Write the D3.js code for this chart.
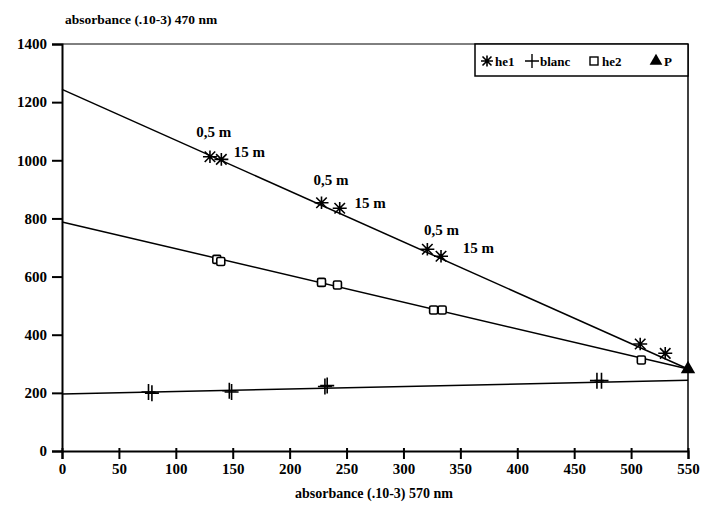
<!DOCTYPE html>
<html>
<head>
<meta charset="utf-8">
<script src="https://cdn.jsdelivr.net/npm/d3@7"></script>
<style>
  body { margin: 0; background: #fff; }
  text { font-family: "Liberation Serif", "DejaVu Serif", serif; font-weight: bold; fill: #000; }
</style>
</head>
<body>
<svg id="chart" width="701" height="513"></svg>
<script>
// data
const xTicks = [0, 50, 100, 150, 200, 250, 300, 350, 400, 450, 500, 550];
const yTicks = [0, 200, 400, 600, 800, 1000, 1200, 1400];

const he1 = [[130, 1012], [140, 1003], [228, 854], [244, 835], [321, 694], [333, 670], [508, 368], [530, 336]];
const blanc = [[76, 203], [79, 199], [147, 207], [149, 203], [231, 222], [233, 225], [470, 242], [474, 242]];
const he2 = [[136, 659], [139.5, 652], [228, 580], [242, 571], [326.5, 485], [334, 485], [509, 313]];
const P = [[550, 282]];

// fitted lines drawn across the plot
const lineHe1 = [[0, 1244], [550, 282]];
const lineHe2 = [[0, 788], [550, 282]];
const lineBlanc = [[0, 196], [550, 243]];

const notes = [
    { x: 118, y: 1080, text: "0,5 m" },
    { x: 151, y: 1011, text: "15 m" },
    { x: 221, y: 915, text: "0,5 m" },
    { x: 257, y: 836, text: "15 m" },
    { x: 318, y: 742, text: "0,5 m" },
    { x: 352, y: 680, text: "15 m" }
];

const legendItems = ["he1", "blanc", "he2", "P"];

const svg = d3.select("#chart");
const mLeft = 62, mRight = 688, mTop = 44, mBottom = 451;

const x = d3.scaleLinear().domain([0, 550]).range([mLeft, mRight]);
const y = d3.scaleLinear().domain([0, 1400]).range([mBottom, mTop]);

// frame: top and right border
svg.append("line").attr("x1", mLeft).attr("x2", mRight).attr("y1", mTop).attr("y2", mTop)
    .attr("stroke", "#000").attr("stroke-width", 1);
svg.append("line").attr("x1", mRight).attr("x2", mRight).attr("y1", mTop).attr("y2", mBottom)
    .attr("stroke", "#000").attr("stroke-width", 1.5);

// axes
const xAxis = svg.append("g").attr("transform", `translate(0,${mBottom})`)
    .call(d3.axisBottom(x).tickValues(xTicks).tickSize(8).tickPadding(4).tickFormat(d3.format("d")));
const yAxis = svg.append("g").attr("transform", `translate(${mLeft},0)`)
    .call(d3.axisLeft(y).tickValues(yTicks).tickSize(10).tickPadding(5).tickFormat(d3.format("d")));

[xAxis, yAxis].forEach(g => {
    g.select(".domain").attr("stroke-width", 2);
    g.selectAll(".tick line").attr("stroke-width", 2);
    g.selectAll(".tick text").style("font-size", "15px").style("font-family", "Liberation Serif").style("font-weight", "bold");
});
xAxis.selectAll(".tick line").attr("y1", -3);

// axis titles
svg.append("text").attr("x", 65).attr("y", 24).style("font-size", "13.5px")
    .text("absorbance (.10-3) 470 nm");
svg.append("text").attr("x", 374).attr("y", 498).attr("text-anchor", "middle").style("font-size", "14px")
    .text("absorbance (.10-3) 570 nm");

// lines
const line = d3.line().x(d => x(d[0])).y(d => y(d[1]));
[lineHe1, lineHe2, lineBlanc].forEach(l => {
    svg.append("path").attr("d", line(l)).attr("fill", "none")
        .attr("stroke", "#000").attr("stroke-width", 1.5);
});

// marker shapes
function asterisk(s) {
    return `M${-s},0H${s}M${-s * 0.75},${-s * 0.75}L${s * 0.75},${s * 0.75}M${-s * 0.75},${s * 0.75}L${s * 0.75},${-s * 0.75}M0,${-s * 0.9}V${s * 0.9}`;
}
function cross(w, h) {
    return `M${-w},0H${w}M0,${-h}V${h}`;
}

svg.append("g").selectAll("path").data(he1).join("path")
    .attr("transform", d => `translate(${x(d[0])},${y(d[1])})`)
    .attr("d", asterisk(7)).attr("stroke", "#000").attr("stroke-width", 1.6).attr("fill", "none");

svg.append("g").selectAll("path").data(blanc).join("path")
    .attr("transform", d => `translate(${x(d[0])},${y(d[1])})`)
    .attr("d", cross(7, 8)).attr("stroke", "#000").attr("stroke-width", 1.6).attr("fill", "none");

svg.append("g").selectAll("rect").data(he2).join("rect")
    .attr("x", d => x(d[0]) - 4).attr("y", d => y(d[1]) - 4)
    .attr("width", 8).attr("height", 8).attr("rx", 1.5)
    .attr("fill", "#fff").attr("stroke", "#000").attr("stroke-width", 1.6);

svg.append("g").selectAll("path").data(P).join("path")
    .attr("transform", d => `translate(${x(d[0])},${y(d[1])})`)
    .attr("d", d3.symbol(d3.symbolTriangle, 90)()).attr("fill", "#000");

// depth annotations
svg.append("g").selectAll("text").data(notes).join("text")
    .attr("x", d => x(d.x)).attr("y", d => y(d.y))
    .style("font-size", "15px").text(d => d.text);

// legend
const lg = svg.append("g");
lg.append("rect").attr("x", 475).attr("y", mTop).attr("width", mRight - 475).attr("height", 32)
    .attr("fill", "#fff").attr("stroke", "#000").attr("stroke-width", 1.5);
const lgX = [487, 532, 594, 656];
const lgY = mTop + 17;
legendItems.forEach((name, i) => {
    const cx = lgX[i];
    if (i === 0) lg.append("path").attr("transform", `translate(${cx},${lgY})`).attr("d", asterisk(6))
        .attr("stroke", "#000").attr("stroke-width", 1.6).attr("fill", "none");
    if (i === 1) lg.append("path").attr("transform", `translate(${cx},${lgY})`).attr("d", cross(7, 7))
        .attr("stroke", "#000").attr("stroke-width", 1.4).attr("fill", "none");
    if (i === 2) lg.append("rect").attr("x", cx - 4).attr("y", lgY - 4).attr("width", 8).attr("height", 8)
        .attr("fill", "#fff").attr("stroke", "#000").attr("stroke-width", 1.4);
    if (i === 3) lg.append("path").attr("transform", `translate(${cx},${lgY})`)
        .attr("d", d3.symbol(d3.symbolTriangle, 70)()).attr("fill", "#000");
    lg.append("text").attr("x", cx + 8).attr("y", lgY + 5).style("font-size", "13px").text(name);
});
</script>
</body>
</html>
